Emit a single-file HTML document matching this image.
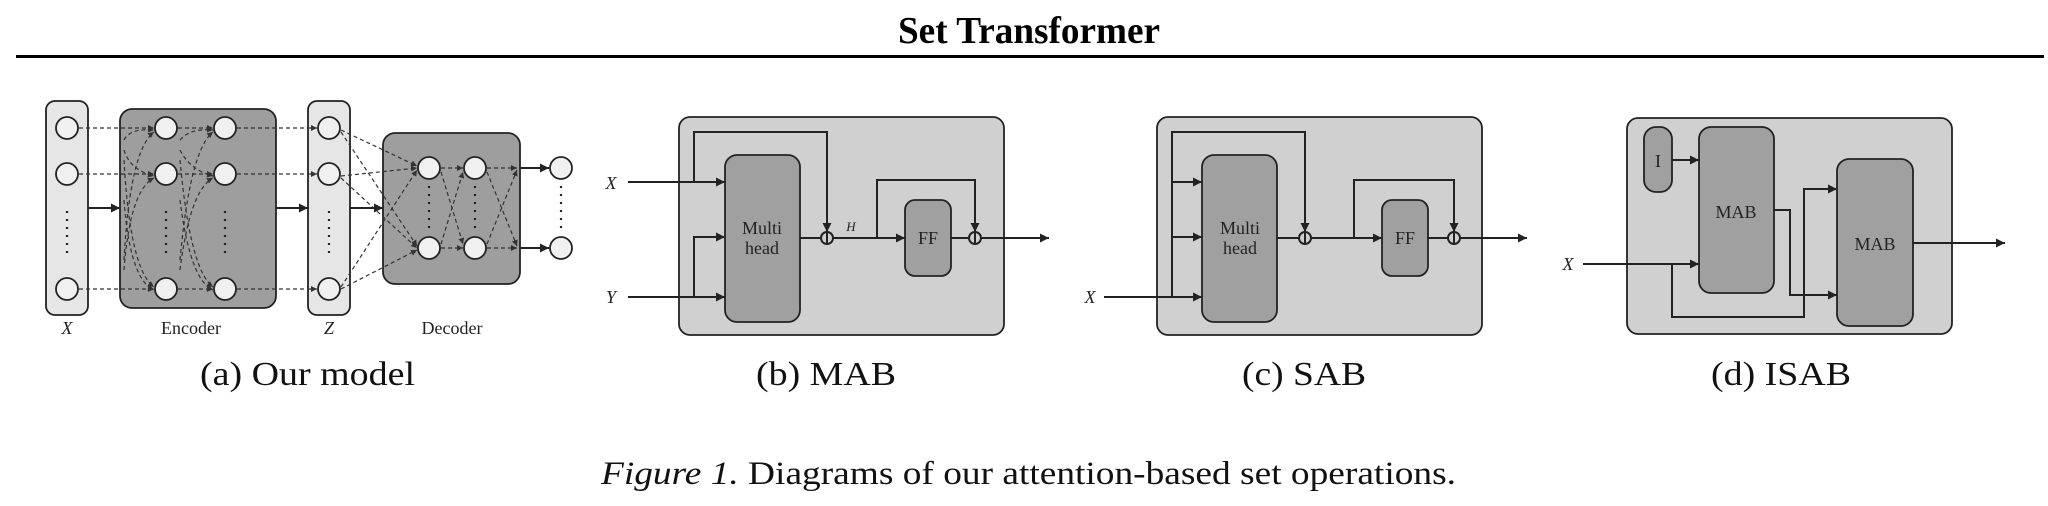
<!DOCTYPE html>
<html><head><meta charset="utf-8"><style>html,body{margin:0;padding:0;background:#fff}svg{display:block}</style></head>
<body>
<svg width="2048" height="506" viewBox="0 0 2048 506" xmlns="http://www.w3.org/2000/svg" font-family="'Liberation Serif', serif">
<defs>
<marker id="a" viewBox="0 0 10 10" refX="10" refY="5" markerWidth="9" markerHeight="9" markerUnits="userSpaceOnUse" orient="auto"><path d="M0,0 L10,5 L0,10 z" fill="#222"/></marker>
<marker id="s" viewBox="0 0 10 10" refX="10" refY="5" markerWidth="6" markerHeight="6" markerUnits="userSpaceOnUse" orient="auto"><path d="M0,0 L10,5 L0,10 z" fill="#333"/></marker>
</defs>
<text x="1029" y="43" font-size="38" font-weight="bold" text-anchor="middle" textLength="262" lengthAdjust="spacingAndGlyphs">Set Transformer</text>
<rect x="16" y="55" width="2028" height="3" fill="#000"/>

<!-- Panel a -->
<g stroke="#222" stroke-width="1.8">
<rect x="46" y="101" width="42" height="214" rx="9" fill="#e6e6e6"/>
<rect x="120" y="109" width="156" height="199" rx="12" fill="#9e9e9e"/>
<rect x="308" y="101" width="42" height="214" rx="9" fill="#e6e6e6"/>
<rect x="383" y="133" width="137" height="151" rx="12" fill="#9e9e9e"/>
</g>
<g stroke="#333" stroke-width="1.2" stroke-dasharray="4,3" fill="none" marker-end="url(#s)">
<line x1="79" y1="128" x2="154" y2="128"/><line x1="79" y1="174" x2="154" y2="174"/><line x1="79" y1="289" x2="154" y2="289"/>
<path d="M124,140 Q130,128 154,130"/><path d="M124,260 Q130,150 154,132"/><path d="M124,150 Q130,170 154,176"/><path d="M124,270 Q130,190 154,178"/><path d="M124,160 Q130,270 154,287"/><path d="M124,200 Q130,280 154,290"/>
<line x1="178" y1="128" x2="213" y2="128"/><line x1="178" y1="174" x2="213" y2="174"/><line x1="178" y1="289" x2="213" y2="289"/>
<path d="M180,140 Q190,128 213,130"/><path d="M180,260 Q190,150 213,132"/><path d="M180,150 Q190,170 213,176"/><path d="M180,270 Q190,190 213,178"/><path d="M180,160 Q190,270 213,287"/><path d="M180,200 Q190,280 213,290"/>
<line x1="237" y1="128" x2="317" y2="128"/><line x1="237" y1="174" x2="317" y2="174"/><line x1="237" y1="289" x2="317" y2="289"/>
<line x1="341" y1="130" x2="417" y2="166"/><line x1="341" y1="132" x2="417" y2="246"/><line x1="341" y1="176" x2="417" y2="168"/><line x1="341" y1="178" x2="417" y2="248"/><line x1="341" y1="287" x2="417" y2="170"/><line x1="341" y1="289" x2="417" y2="250"/>
<line x1="441" y1="168" x2="463" y2="168"/><line x1="441" y1="248" x2="463" y2="248"/><line x1="441" y1="172" x2="463" y2="244"/><line x1="441" y1="244" x2="463" y2="172"/>
<line x1="487" y1="168" x2="517" y2="168"/><line x1="487" y1="248" x2="517" y2="248"/><line x1="487" y1="172" x2="517" y2="246"/><line x1="487" y1="244" x2="517" y2="170"/>
</g>
<g stroke="#222" stroke-width="2" marker-end="url(#a)" fill="none">
<line x1="88" y1="208" x2="120" y2="208"/><line x1="276" y1="208" x2="308" y2="208"/><line x1="350" y1="208" x2="383" y2="208"/>
<line x1="520" y1="168" x2="549" y2="168"/><line x1="520" y1="248" x2="549" y2="248"/>
</g>
<g fill="#f0f0f0" stroke="#222" stroke-width="1.8">
<circle cx="67" cy="128" r="11"/><circle cx="67" cy="174" r="11"/><circle cx="67" cy="289" r="11"/>
<circle cx="166" cy="128" r="11"/><circle cx="166" cy="174" r="11"/><circle cx="166" cy="289" r="11"/>
<circle cx="225" cy="128" r="11"/><circle cx="225" cy="174" r="11"/><circle cx="225" cy="289" r="11"/>
<circle cx="329" cy="128" r="11"/><circle cx="329" cy="174" r="11"/><circle cx="329" cy="289" r="11"/>
<circle cx="429" cy="168" r="11"/><circle cx="429" cy="248" r="11"/><circle cx="475" cy="168" r="11"/><circle cx="475" cy="248" r="11"/>
<circle cx="561" cy="168" r="11"/><circle cx="561" cy="248" r="11"/>
</g>
<g stroke="#222" stroke-width="2.2" stroke-dasharray="2,6">
<line x1="67" y1="211" x2="67" y2="254"/><line x1="166" y1="211" x2="166" y2="254"/><line x1="225" y1="211" x2="225" y2="254"/><line x1="329" y1="211" x2="329" y2="254"/>
<line x1="429" y1="186" x2="429" y2="232"/><line x1="475" y1="186" x2="475" y2="232"/><line x1="561" y1="186" x2="561" y2="232"/>
</g>
<g font-size="18" text-anchor="middle" fill="#222">
<text x="67" y="334" font-style="italic">X</text><text x="191" y="334">Encoder</text><text x="329" y="334" font-style="italic">Z</text><text x="452" y="334">Decoder</text>
</g>

<!-- Panel b -->
<g stroke="#222" stroke-width="1.8">
<rect x="679" y="117" width="325" height="218" rx="11" fill="#d0d0d0"/>
<rect x="725" y="155" width="75" height="167" rx="12" fill="#a0a0a0"/>
<rect x="905" y="200" width="46" height="76" rx="10" fill="#a0a0a0"/>
<rect x="1157" y="117" width="325" height="218" rx="11" fill="#d0d0d0"/>
<rect x="1202" y="155" width="75" height="167" rx="12" fill="#a0a0a0"/>
<rect x="1382" y="200" width="46" height="76" rx="10" fill="#a0a0a0"/>
<rect x="1627" y="118" width="325" height="216" rx="11" fill="#d0d0d0"/>
<rect x="1644" y="127" width="28" height="65" rx="12" fill="#a0a0a0"/>
<rect x="1699" y="127" width="75" height="166" rx="12" fill="#a0a0a0"/>
<rect x="1837" y="159" width="76" height="167" rx="12" fill="#a0a0a0"/>
</g>
<g stroke="#222" stroke-width="2" fill="none">
<line x1="628" y1="182" x2="725" y2="182" marker-end="url(#a)"/>
<line x1="628" y1="297" x2="725" y2="297" marker-end="url(#a)"/>
<polyline points="694,297 694,237 725,237" marker-end="url(#a)"/>
<polyline points="694,182 694,132 827,132 827,232" marker-end="url(#a)"/>
<line x1="800" y1="238" x2="821" y2="238"/>
<line x1="833" y1="238" x2="905" y2="238" marker-end="url(#a)"/>
<polyline points="877,238 877,180 975,180 975,232" marker-end="url(#a)"/>
<line x1="951" y1="238" x2="969" y2="238"/>
<line x1="981" y1="238" x2="1049" y2="238" marker-end="url(#a)"/>
<circle cx="827" cy="238" r="6"/><line x1="827" y1="232" x2="827" y2="244"/>
<circle cx="975" cy="238" r="6"/><line x1="975" y1="232" x2="975" y2="244"/>

<line x1="1104" y1="297" x2="1202" y2="297" marker-end="url(#a)"/>
<line x1="1172" y1="182" x2="1202" y2="182" marker-end="url(#a)"/>
<line x1="1172" y1="237" x2="1202" y2="237" marker-end="url(#a)"/>
<polyline points="1172,297 1172,132 1305,132 1305,232" marker-end="url(#a)"/>
<line x1="1277" y1="238" x2="1299" y2="238"/>
<line x1="1311" y1="238" x2="1382" y2="238" marker-end="url(#a)"/>
<polyline points="1354,238 1354,180 1454,180 1454,232" marker-end="url(#a)"/>
<line x1="1428" y1="238" x2="1448" y2="238"/>
<line x1="1460" y1="238" x2="1527" y2="238" marker-end="url(#a)"/>
<circle cx="1305" cy="238" r="6"/><line x1="1305" y1="232" x2="1305" y2="244"/>
<circle cx="1454" cy="238" r="6"/><line x1="1454" y1="232" x2="1454" y2="244"/>

<line x1="1672" y1="160" x2="1699" y2="160" marker-end="url(#a)"/>
<line x1="1583" y1="264" x2="1699" y2="264" marker-end="url(#a)"/>
<polyline points="1672,264 1672,317 1804,317 1804,189 1837,189" marker-end="url(#a)"/>
<polyline points="1774,210 1790,210 1790,295 1837,295" marker-end="url(#a)"/>
<line x1="1913" y1="243" x2="2005" y2="243" marker-end="url(#a)"/>
</g>
<g font-size="18" fill="#222">
<text x="611" y="189" text-anchor="middle" font-style="italic">X</text>
<text x="611" y="303" text-anchor="middle" font-style="italic">Y</text>
<text x="851" y="231" text-anchor="middle" font-style="italic" font-size="13">H</text>
<text x="1090" y="303" text-anchor="middle" font-style="italic">X</text>
<text x="1568" y="270" text-anchor="middle" font-style="italic">X</text>
</g>
<g font-size="18" fill="#222" text-anchor="middle">
<text x="762" y="234">Multi</text><text x="762" y="254">head</text>
<text x="928" y="244">FF</text>
<text x="1240" y="234">Multi</text><text x="1240" y="254">head</text>
<text x="1405" y="244">FF</text>
<text x="1658" y="167">I</text>
<text x="1736" y="218">MAB</text>
<text x="1875" y="250">MAB</text>
</g>

<g font-size="34" fill="#111">
<text x="200" y="385" textLength="215" lengthAdjust="spacingAndGlyphs">(a) Our model</text>
<text x="756" y="385" textLength="140" lengthAdjust="spacingAndGlyphs">(b) MAB</text>
<text x="1242" y="385" textLength="124" lengthAdjust="spacingAndGlyphs">(c) SAB</text>
<text x="1711" y="385" textLength="140" lengthAdjust="spacingAndGlyphs">(d) ISAB</text>
<text x="601" y="484" font-size="33" textLength="855" lengthAdjust="spacingAndGlyphs"><tspan font-style="italic">Figure 1.</tspan> Diagrams of our attention-based set operations.</text>
</g>
</svg>
</body></html>
